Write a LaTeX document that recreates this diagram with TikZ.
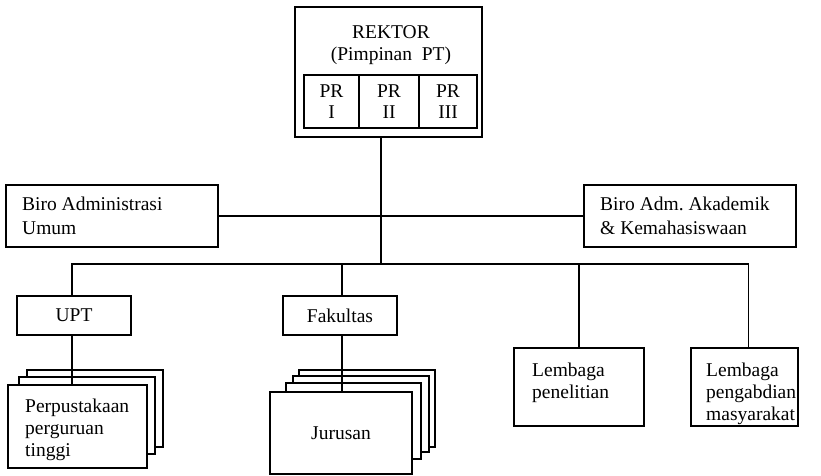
\documentclass[tikz,border=0pt]{standalone}
\usepackage{fontspec}
\setmainfont{Liberation Serif}
\usetikzlibrary{positioning}
\tikzset{
  garis/.style={line width=1.3pt},
  kotak/.style={draw, garis, rectangle, inner sep=0pt, outer sep=0pt, anchor=north west,
    align=center, font=\fontsize{19.5}{21}\selectfont},
  teks/.style={anchor=north west, align=left, inner sep=0pt, font=\fontsize{19.5}{22}\selectfont},
}

\begin{document}
\begin{tikzpicture}[x=1pt,y=-1pt]
\useasboundingbox (0,0) rectangle (821,476);
% pimpinan
\node[kotak, minimum width=187, minimum height=130] (rektor) at (295,7) {};
\node[teks, anchor=north, align=center] (trektor) at (391,25) {REKTOR\\(Pimpinan\ \ PT)};
\node[kotak, minimum width=55, minimum height=53] (pr1) at (304,75) {PR\\I};
\node[kotak, minimum width=60, minimum height=53, right=0pt of pr1.north east, anchor=north west] (pr2) {PR\\II};
\node[kotak, minimum width=58, minimum height=53, right=0pt of pr2.north east, anchor=north west] (pr3) {PR\\III};
% biro
\node[kotak, minimum width=212, minimum height=62] (bau) at (6,185) {};
\node[teks, font=\fontsize{19.5}{24}\selectfont] (tbau) at (22,197) {Biro Administrasi\\Umum};
\node[kotak, minimum width=212, minimum height=62] (baak) at (584,185) {};
\node[teks, font=\fontsize{19.5}{24}\selectfont] (tbaak) at (600,197) {Biro Adm.\ Akademik\\\& Kemahasiswaan};
% unit di bawah
\node[kotak, minimum width=114, minimum height=39] (upt) at (17,296) {UPT};
\node[kotak, minimum width=114, minimum height=39] (fak) at (283,296) {Fakultas};
\node[kotak, minimum width=130, minimum height=78] (lp) at (514,348) {};
\node[teks] (tlp) at (532,363) {Lembaga\\penelitian};
\node[kotak, minimum width=107, minimum height=78] (lpm) at (691,348) {};
\node[teks] (tlpm) at (706,363) {Lembaga\\pengabdian\\masyarakat};
% tumpukan perpustakaan
\foreach \kiri/\atas/\kanan/\bawah in {27/370/163/447, 19/377/155/454}
  \draw[garis, fill=white] (\kiri,\atas) rectangle (\kanan,\bawah);
\node[kotak, fill=white, minimum width=139, minimum height=83] (perpus) at (8,385) {};
\node[teks] (tperpus) at (25,399) {Perpustakaan\\perguruan\\tinggi};
% tumpukan jurusan
\foreach \kiri/\atas/\kanan/\bawah in {299/370/435/447, 293/376/429/452, 286/383/421/459}
  \draw[garis, fill=white] (\kiri,\atas) rectangle (\kanan,\bawah);
\node[kotak, fill=white, minimum width=142, minimum height=82] (jur) at (270,392) {Jurusan};
% garis
\coordinate (simpul1) at (381,216);
\coordinate (simpul2) at (381,264);
\draw[garis] (simpul1 |- rektor.south) -- (simpul2);
\draw[garis] (bau.east) -- (baak.west);
\draw[garis] ([xshift=-2]upt.north) |- ([xshift=4]lpm.north |- simpul2) -- ([xshift=4]lpm.north);
\draw[garis] ([xshift=2]fak.north |- simpul2) -- ([xshift=2]fak.north);
\draw[garis] (lp.north |- simpul2) -- (lp.north);
\draw[garis] ([xshift=-2]upt.south) -- ([xshift=-2]upt.south |- perpus.north);
\draw[garis] ([xshift=2]fak.south) -- ([xshift=2]fak.south |- jur.north);
\end{tikzpicture}
\end{document}
